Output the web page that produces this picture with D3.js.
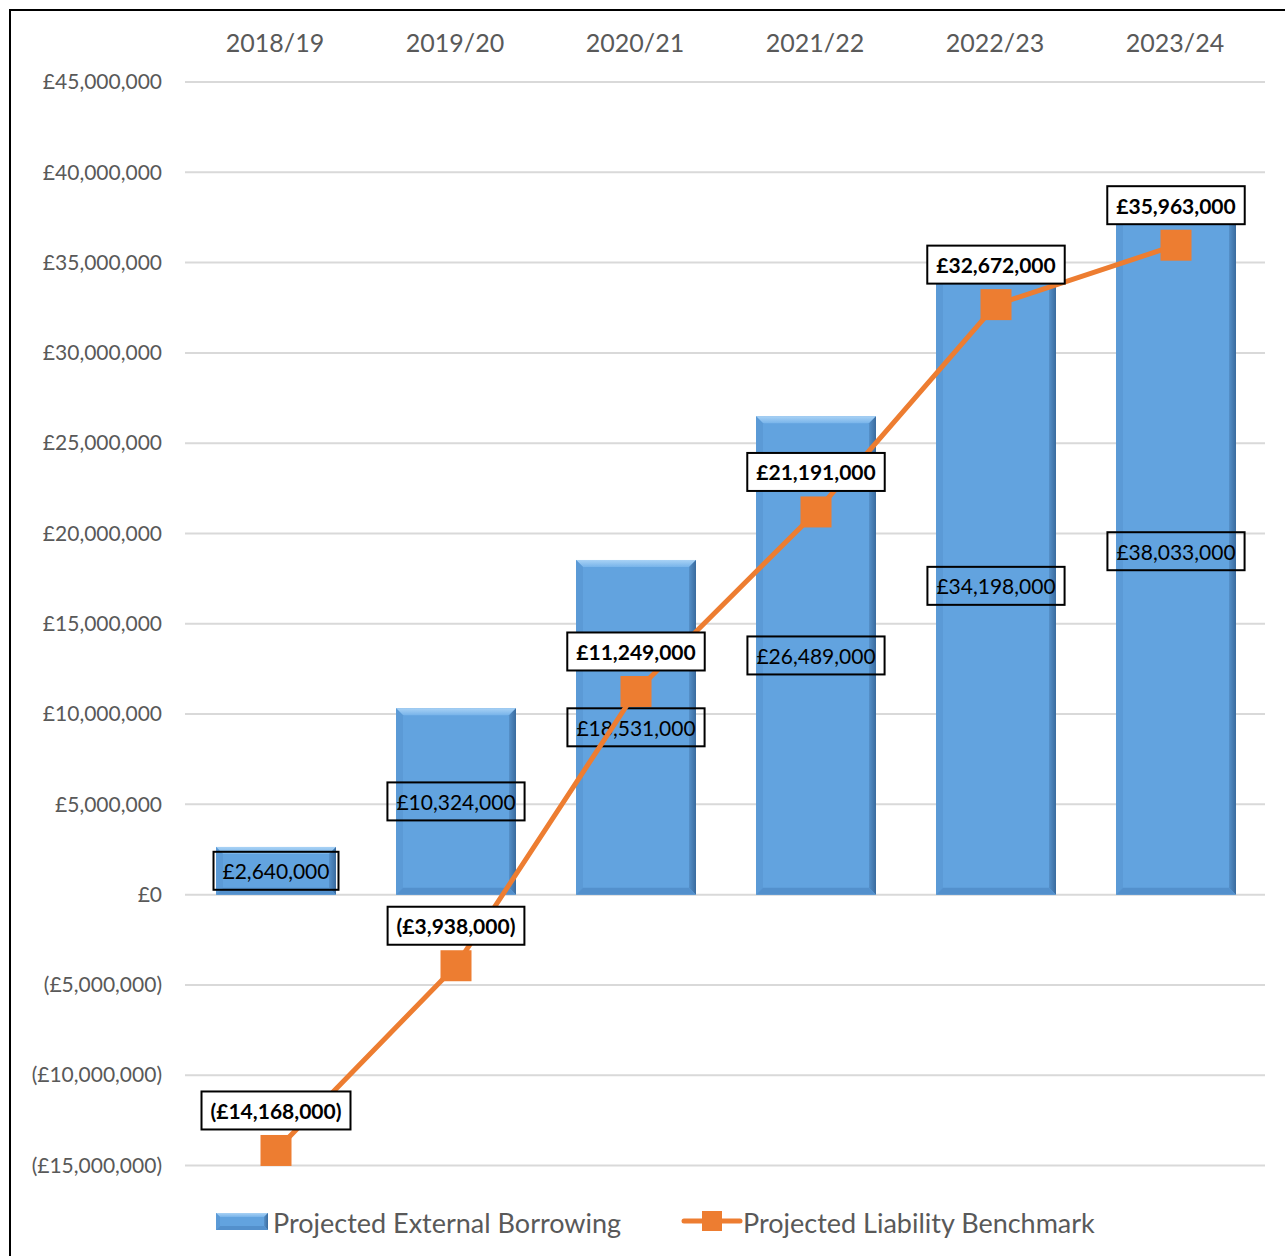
<!DOCTYPE html>
<html>
<head>
<meta charset="utf-8">
<script src="https://cdn.jsdelivr.net/npm/d3@7"></script>
<style>
  html, body { margin: 0; padding: 0; background: #fff; }
  svg { display: block; }
  text { font-family: Lato, "Open Sans", sans-serif; }
</style>
</head>
<body>
<svg id="chart" width="1285" height="1256"></svg>
<script>
// Financial years shown along the top
const years = ["2018/19", "2019/20", "2020/21", "2021/22", "2022/23", "2023/24"];
// Projected External Borrowing (bars)
const borrowing = [2640000, 10324000, 18531000, 26489000, 34198000, 38033000];
// Projected Liability Benchmark (line)
const benchmark = [-14168000, -3938000, 11249000, 21191000, 32672000, 35963000];
// Value-axis ticks
const yTicks = [-15000000, -10000000, -5000000, 0, 5000000, 10000000, 15000000,
                20000000, 25000000, 30000000, 35000000, 40000000, 45000000];
const seriesNames = ["Projected External Borrowing", "Projected Liability Benchmark"];

const svg = d3.select("#chart");

const x = d3.scaleBand()
  .domain(years)
  .range([186, 1266])
  .paddingInner(1 / 3)
  .paddingOuter(1 / 6);

const y = d3.scaleLinear()
  .domain([-15000000, 45000000])
  .range([1165.5, 82]);

const money = d3.format(",.0f");
const fmt = v => v < 0 ? "(£" + money(-v) + ")" : "£" + money(v);

// outer frame
svg.append("rect")
  .attr("x", 10).attr("y", 10)
  .attr("width", 1300).attr("height", 1270)
  .attr("fill", "none").attr("stroke", "#000").attr("stroke-width", 2);

// gridlines
svg.append("g")
  .selectAll("line")
  .data(yTicks)
  .join("line")
  .attr("x1", 185).attr("x2", 1265)
  .attr("y1", d => y(d)).attr("y2", d => y(d))
  .attr("stroke", "#d9d9d9").attr("stroke-width", 2);

// value axis labels
const yAxis = d3.axisLeft(y).tickValues(yTicks).tickFormat(d => d === 0 ? "£0" : fmt(d)).tickSize(0).tickPadding(0);
const yg = svg.append("g").attr("transform", "translate(162,0)").call(yAxis);
yg.select(".domain").remove();
yg.selectAll("text")
  .attr("fill", "#595959")
  .style("font-size", "21px")
  .style("font-family", "Lato, sans-serif");

// category axis at the top
const xAxis = d3.axisTop(x).tickSize(0).tickPadding(0);
const xg = svg.append("g").attr("transform", "translate(-1,52)").call(xAxis);
xg.select(".domain").remove();
xg.selectAll("text")
  .attr("fill", "#595959")
  .style("font-size", "25px")
  .style("font-family", "Lato, sans-serif");

// bevelled bar drawing
function bevelBar(g, x0, y0, w, h, b) {
  const x1 = x0 + w, y1 = y0 + h;
  b = Math.min(b, h / 2, w / 2);
  g.append("rect").attr("x", x0).attr("y", y0).attr("width", w).attr("height", h).attr("fill", "#62a3df");
  // top
  g.append("polygon")
    .attr("points", [[x0, y0], [x1, y0], [x1 - b, y0 + b], [x0 + b, y0 + b]].join(" "))
    .attr("fill", "url(#topGrad)");
  // left
  g.append("polygon")
    .attr("points", [[x0, y0], [x0 + b, y0 + b], [x0 + b, y1 - b], [x0, y1]].join(" "))
    .attr("fill", "#5b9ad6");
  // right
  g.append("polygon")
    .attr("points", [[x1, y0], [x1 - b, y0 + b], [x1 - b, y1 - b], [x1, y1]].join(" "))
    .attr("fill", "url(#rightGrad)");
  // bottom
  g.append("polygon")
    .attr("points", [[x0, y1], [x0 + b, y1 - b], [x1 - b, y1 - b], [x1, y1]].join(" "))
    .attr("fill", "#5390cc");
}

const defs = svg.append("defs");
const tg = defs.append("linearGradient").attr("id", "topGrad").attr("x1", 0).attr("y1", 0).attr("x2", 0).attr("y2", 1);
tg.append("stop").attr("offset", "0%").attr("stop-color", "#a9d2f5");
tg.append("stop").attr("offset", "100%").attr("stop-color", "#78b4ea");
const rg = defs.append("linearGradient").attr("id", "rightGrad").attr("x1", 0).attr("y1", 0).attr("x2", 1).attr("y2", 0);
rg.append("stop").attr("offset", "0%").attr("stop-color", "#5590c9");
rg.append("stop").attr("offset", "100%").attr("stop-color", "#3a6b9e");

const barsG = svg.append("g");
years.forEach((yr, i) => {
  const v = borrowing[i];
  const top = y(Math.max(0, v)), bot = y(Math.min(0, v));
  bevelBar(barsG.append("g"), x(yr), top, x.bandwidth(), bot - top, 7);
});

// boxed label helper
function boxLabel(g, cx, cy, text, bold, fill) {
  const lg = g.append("g");
  const r = lg.append("rect");
  const t = lg.append("text")
    .attr("x", cx).attr("y", cy)
    .attr("text-anchor", "middle")
    .attr("dominant-baseline", "central")
    .attr("fill", "#000")
    .style("font-size", "21px")
    .style("font-weight", bold ? "700" : "400")
    .text(text);
  const w = t.node().getComputedTextLength() + 18;
  r.attr("x", cx - w / 2).attr("y", cy - 19).attr("width", w).attr("height", 38)
    .attr("fill", fill).attr("stroke", "#000").attr("stroke-width", 2);
  t.raise();
}

// bar value labels, centred in the bars
const barLabels = svg.append("g");
years.forEach((yr, i) => {
  const v = borrowing[i];
  const cy = (y(v) + y(0)) / 2;
  boxLabel(barLabels, x(yr) + x.bandwidth() / 2, cy, fmt(v), false, "none");
});

// benchmark line
const cx = d => x(d) + x.bandwidth() / 2;
const line = d3.line().x((d, i) => cx(years[i])).y(d => y(d));
svg.append("path")
  .datum(benchmark)
  .attr("d", line)
  .attr("fill", "none")
  .attr("stroke", "#ed7d31")
  .attr("stroke-width", 5);

const ms = 31;
svg.append("g")
  .selectAll("rect")
  .data(benchmark)
  .join("rect")
  .attr("x", (d, i) => cx(years[i]) - ms / 2)
  .attr("y", d => y(d) - ms / 2)
  .attr("width", ms).attr("height", ms)
  .attr("fill", "#ed7d31");

// benchmark value labels above the markers
const lineLabels = svg.append("g");
benchmark.forEach((v, i) => {
  boxLabel(lineLabels, cx(years[i]), y(v) - 40, fmt(v), true, "#fff");
});

// legend
const leg = svg.append("g");
bevelBar(leg.append("g"), 216, 1213, 52, 17, 4);
leg.append("text")
  .attr("x", 273).attr("y", 1222)
  .attr("dominant-baseline", "central")
  .attr("fill", "#595959")
  .style("font-size", "27px")
  .text(seriesNames[0]);
leg.append("line")
  .attr("x1", 684).attr("x2", 740).attr("y1", 1221).attr("y2", 1221)
  .attr("stroke", "#ed7d31").attr("stroke-width", 5).attr("stroke-linecap", "round");
leg.append("rect")
  .attr("x", 702).attr("y", 1211).attr("width", 20).attr("height", 20)
  .attr("fill", "#ed7d31");
leg.append("text")
  .attr("x", 743).attr("y", 1222)
  .attr("dominant-baseline", "central")
  .attr("fill", "#595959")
  .style("font-size", "27px")
  .text(seriesNames[1]);
</script>
</body>
</html>
